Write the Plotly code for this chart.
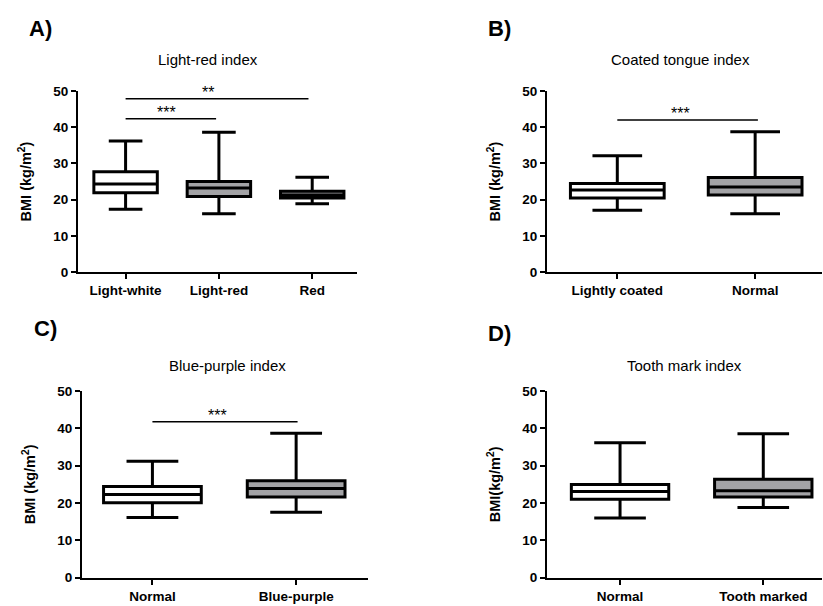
import plotly.graph_objects as go

W, H = 823, 606

# ---------------- data ----------------
a_cats = ["Light-white", "Light-red", "Red"]
a_low = [17.4, 16.1, 18.9]
a_q1 = [21.9, 20.9, 20.5]
a_med = [24.3, 23.2, 21.3]
a_q3 = [27.7, 25.0, 22.3]
a_high = [36.2, 38.6, 26.2]

b_cats = ["Lightly coated", "Normal"]
b_low = [17.1, 16.1]
b_q1 = [20.5, 21.3]
b_med = [22.7, 23.5]
b_q3 = [24.5, 26.1]
b_high = [32.1, 38.7]

c_cats = ["Normal", "Blue-purple"]
c_low = [16.1, 17.5]
c_q1 = [20.1, 21.6]
c_med = [22.3, 23.9]
c_q3 = [24.4, 26.0]
c_high = [31.2, 38.7]

d_cats = ["Normal", "Tooth marked"]
d_low = [16.0, 18.8]
d_q1 = [21.0, 21.6]
d_med = [23.1, 23.3]
d_q3 = [25.0, 26.4]
d_high = [36.2, 38.6]

y_ticks = [0, 10, 20, 30, 40, 50]

# significance bars: (from index, to index, height, label)
a_sig = [(0, 0.97, 42.3, "***"), (0, 1.96, 47.8, "**")]
b_sig = [(0, 1.02, 42.0, "***")]
c_sig = [(0, 1.01, 41.8, "***")]
d_sig = []

WHITE = "#ffffff"
GRAY = "#a3a3a6"
FONT = "Liberation Sans, Arial, sans-serif"


def px(x):
    return x / W


def py(y):
    return 1 - y / H


panels = [
    dict(cats=a_cats, low=a_low, q1=a_q1, med=a_med, q3=a_q3, high=a_high,
         fills=[WHITE, GRAY, GRAY], sig=a_sig,
         xdom=[px(78), px(357)], ydom=[py(272), py(86)], xrange=[-0.51, 2.48],
         title="Light-red index", tx=208, ty=54,
         letter="A)", lx=27, ly=22, ytitle="<b>BMI (kg/m<sup>2</sup>)</b>"),
    dict(cats=b_cats, low=b_low, q1=b_q1, med=b_med, q3=b_q3, high=b_high,
         fills=[WHITE, GRAY], sig=b_sig,
         xdom=[px(547), px(822)], ydom=[py(272), py(86)], xrange=[-0.51, 1.485],
         title="Coated tongue index", tx=680, ty=54,
         letter="B)", lx=486, ly=22, ytitle="<b>BMI (kg/m<sup>2</sup>)</b>"),
    dict(cats=c_cats, low=c_low, q1=c_q1, med=c_med, q3=c_q3, high=c_high,
         fills=[WHITE, GRAY], sig=c_sig,
         xdom=[px(82), px(368)], ydom=[py(585), py(394)], xrange=[-0.49, 1.5],
         title="Blue-purple index", tx=227, ty=368,
         letter="C)", lx=32, ly=330, ytitle="<b>BMI (kg/m<sup>2</sup>)</b>"),
    dict(cats=d_cats, low=d_low, q1=d_q1, med=d_med, q3=d_q3, high=d_high,
         fills=[WHITE, GRAY], sig=d_sig,
         xdom=[px(547), px(822)], ydom=[py(585), py(394)], xrange=[-0.51, 1.41],
         title="Tooth mark index", tx=684, ty=368,
         letter="D)", lx=486, ly=335, ytitle="<b>BMI(kg/m<sup>2</sup>)</b>"),
]

fig = go.Figure()
annotations = []
shapes = []

for i, p in enumerate(panels):
    n = i + 1
    xa = "x" if n == 1 else f"x{n}"
    ya = "y" if n == 1 else f"y{n}"
    for j, cat in enumerate(p["cats"]):
        fig.add_trace(go.Box(
            x=[j], q1=[p["q1"][j]], median=[p["med"][j]], q3=[p["q3"][j]],
            lowerfence=[p["low"][j]], upperfence=[p["high"][j]],
            width=0.68, whiskerwidth=0.53,
            fillcolor=p["fills"][j],
            line=dict(color="black", width=3),
            boxpoints=False, showlegend=False, hoverinfo="skip",
            xaxis=xa, yaxis=ya,
        ))
    key = "" if n == 1 else str(n)
    fig.update_layout(**{
        f"xaxis{key}": dict(
            domain=p["xdom"], anchor=ya, range=p["xrange"],
            tickmode="array", tickvals=list(range(len(p["cats"]))),
            ticktext=[f"<b>{c}</b>" for c in p["cats"]],
            showline=True, linecolor="black", linewidth=2,
            ticks="outside", ticklen=5, tickwidth=2, tickcolor="black",
            showgrid=False, zeroline=False,
            tickfont=dict(family=FONT, size=13.5, color="black"),
            fixedrange=True,
        ),
        f"yaxis{key}": dict(
            domain=p["ydom"], anchor=xa, range=[0, 50],
            tickmode="array", tickvals=y_ticks,
            ticktext=[f"<b>{t}</b>" for t in y_ticks],
            showline=True, linecolor="black", linewidth=2,
            ticks="outside", ticklen=5, tickwidth=2, tickcolor="black",
            showgrid=False, zeroline=False,
            tickfont=dict(family=FONT, size=13.5, color="black"),
            title=dict(text=p["ytitle"], standoff=18,
                       font=dict(family=FONT, size=14.5, color="black")),
            fixedrange=True,
        ),
    })
    for (x0, x1, yv, lab) in p["sig"]:
        shapes.append(dict(type="line", xref=xa, yref=ya, x0=x0, x1=x1,
                           y0=yv, y1=yv, line=dict(color="black", width=1.5)))
        annotations.append(dict(xref=xa, yref=ya, x=(x0 + x1) / 2 - 0.1 * (x1 - x0) / 2,
                                y=yv, text=lab, showarrow=False,
                                yanchor="bottom", yshift=-4,
                                font=dict(family=FONT, size=16, color="black")))
    annotations.append(dict(xref="paper", yref="paper", x=px(p["tx"]), y=py(p["ty"]),
                            text=p["title"], showarrow=False, xanchor="center",
                            yanchor="middle",
                            font=dict(family=FONT, size=15, color="black")))
    annotations.append(dict(xref="paper", yref="paper", x=px(p["lx"]), y=py(p["ly"]),
                            text=f"<b>{p['letter']}</b>", showarrow=False,
                            xanchor="left", yanchor="middle",
                            font=dict(family=FONT, size=22, color="black")))

fig.update_layout(
    width=W, height=H,
    margin=dict(l=0, r=0, t=0, b=0),
    paper_bgcolor="white", plot_bgcolor="white",
    boxmode="overlay",
    annotations=annotations, shapes=shapes,
    font=dict(family=FONT, color="black"),
)

fig.write_html("out.html")
